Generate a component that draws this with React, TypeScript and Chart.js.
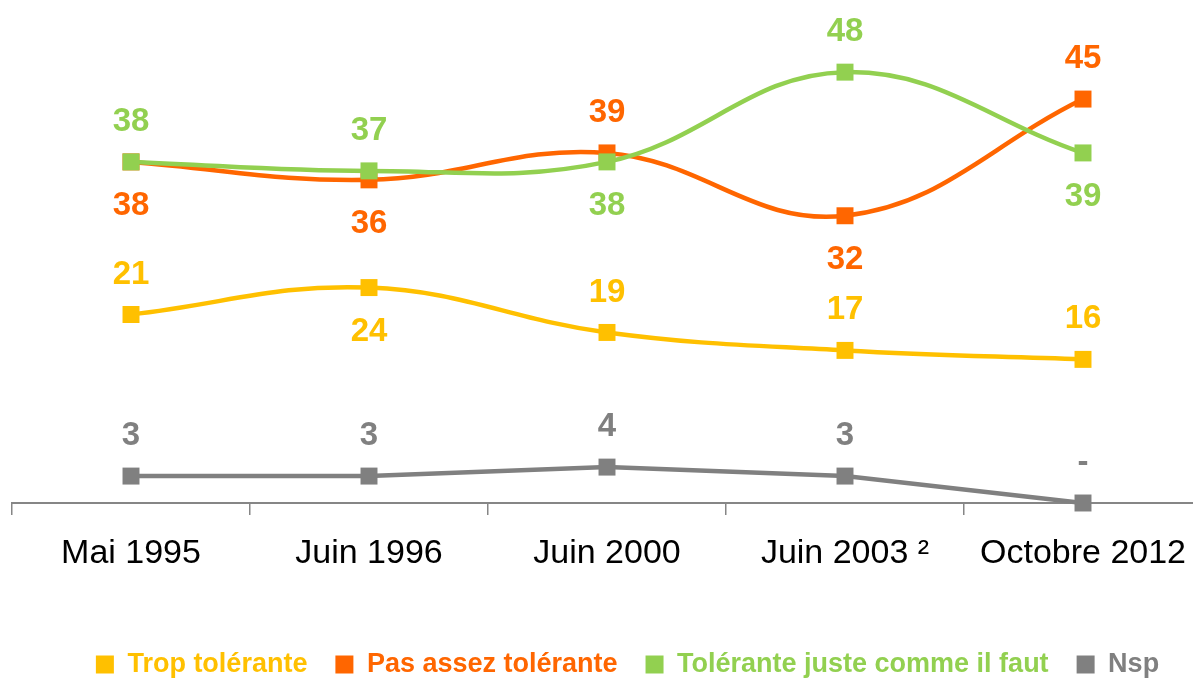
import React, { useEffect, useRef } from 'react';
import { Chart, registerables } from 'chart.js';

Chart.register(...registerables);

const categories = ['Mai 1995', 'Juin 1996', 'Juin 2000', 'Juin 2003 ²', 'Octobre 2012'];
const seriesNames = ['Trop tolérante', 'Pas assez tolérante', 'Tolérante juste comme il faut', 'Nsp'];
const tropTolerante = [21, 24, 19, 17, 16];
const pasAssezTolerante = [38, 36, 39, 32, 45];
const toleranteJuste = [38, 37, 38, 48, 39];
const nsp = [3, 3, 4, 3, 0];
const nspLabels = ['3', '3', '4', '3', '-'];

const colors = ['#FFC000', '#FF6600', '#92D050', '#808080'];
const labelSide = [
  ['up', 'down', 'up', 'up', 'up'],
  ['down', 'down', 'up', 'down', 'up'],
  ['up', 'up', 'down', 'up', 'down'],
  ['up', 'up', 'up', 'up', 'up'],
];
const labelTexts = [
  tropTolerante.map(String),
  pasAssezTolerante.map(String),
  toleranteJuste.map(String),
  nspLabels,
];

const FONT = '"Liberation Sans", Arial, sans-serif';

const valueLabels = {
  id: 'valueLabels',
  afterDatasetsDraw(chart: any) {
    const ctx = chart.ctx;
    ctx.save();
    ctx.font = `bold 33px ${FONT}`;
    ctx.textAlign = 'center';
    ctx.textBaseline = 'middle';
    chart.data.datasets.forEach((ds: any, i: number) => {
      const meta = chart.getDatasetMeta(i);
      meta.data.forEach((pt: any, j: number) => {
        const side = labelSide[i][j] === 'up' ? -1 : 1;
        ctx.fillStyle = colors[i];
        ctx.fillText(labelTexts[i][j], pt.x, pt.y + side * 42 + 2);
      });
    });
    ctx.restore();
  },
};

export default function App() {
  const ref = useRef<HTMLCanvasElement>(null);

  useEffect(() => {
    if (!ref.current) return;
    const seriesData = [tropTolerante, pasAssezTolerante, toleranteJuste, nsp];
    const drawOrder = [1, 2, 0, 3];
    const tensions = [0.4, 0.4, 0.4, 0];
    const chart = new Chart(ref.current, {
      type: 'line',
      data: {
        labels: categories,
        datasets: seriesData.map((d, i) => ({
          label: seriesNames[i],
          data: d,
          borderColor: colors[i],
          backgroundColor: colors[i],
          pointBackgroundColor: colors[i],
          pointBorderWidth: 0,
          pointStyle: 'rect',
          pointRadius: 12,
          borderWidth: 4.5,
          tension: tensions[i],
          order: drawOrder[i],
          clip: false,
          fill: false,
        })),
      },
      options: {
        animation: false,
        responsive: false,
        layout: { padding: { left: 12, right: 0, top: 9, bottom: 0 } },
        plugins: {
          tooltip: { enabled: false },
          legend: {
            position: 'bottom',
            labels: {
              boxWidth: 18,
              boxHeight: 18,
              padding: 28,
              font: { family: FONT, size: 27, weight: 'bold' },
              generateLabels: (c: any) =>
                c.data.datasets.map((ds: any, i: number) => ({
                  text: ds.label,
                  fillStyle: colors[i],
                  strokeStyle: colors[i],
                  lineWidth: 0,
                  fontColor: colors[i],
                  hidden: false,
                  datasetIndex: i,
                })),
            },
          },
        },
        scales: {
          x: {
            offset: true,
            grid: {
              display: true,
              drawOnChartArea: false,
              drawTicks: true,
              tickLength: 12,
              color: '#868686',
              lineWidth: 1.5,
              offset: true,
            },
            border: { display: true, color: '#868686', width: 2 },
            ticks: {
              color: '#000000',
              font: { family: FONT, size: 34 },
              padding: 18,
              maxRotation: 0,
              autoSkip: false,
            },
            afterFit: (s: any) => {
              s.height = 120;
            },
          },
          y: {
            position: 'right',
            min: 0,
            max: 54.7,
            display: true,
            ticks: { display: false },
            grid: { display: false },
            border: { display: false },
            afterFit: (s: any) => {
              s.width = 41;
            },
          },
        },
      },
      plugins: [valueLabels],
    } as any);
    return () => chart.destroy();
  }, []);

  return (
    <div
      style={{
        position: 'fixed',
        left: 0,
        top: 0,
        width: 1193,
        height: 678,
        overflow: 'hidden',
        background: '#ffffff',
      }}
    >
      <canvas ref={ref} width={1243} height={688} style={{ display: 'block' }} />
    </div>
  );
}
